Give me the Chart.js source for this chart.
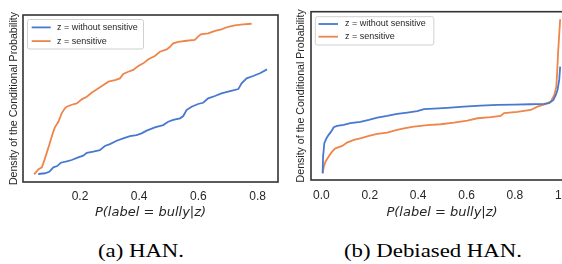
<!DOCTYPE html>
<html>
<head>
<meta charset="utf-8">
<script src="https://cdn.jsdelivr.net/npm/chart.js@4.4.1/dist/chart.umd.min.js"></script>
<style>
  html, body { margin: 0; padding: 0; background: #fff; overflow: hidden; width: 562px; height: 264px; }
  .panel { position: absolute; top: 0; }
  .caption { position: absolute; top: 239.5px; font-family: "Liberation Serif", "Times New Roman", serif;
             font-size: 19px; color: #000; text-align: center; white-space: nowrap;
             transform: scaleX(1.2); transform-origin: center; }
</style>
</head>
<body>
<canvas class="panel" id="hanChart" width="281" height="230" style="left:0"></canvas>
<canvas class="panel" id="debiasedChart" width="300" height="230" style="left:281px"></canvas>
<div class="caption" style="left:91px;width:100px">(a) HAN.</div>
<div class="caption" style="left:333px;width:200px">(b) Debiased HAN.</div>
<script>
// ---- data ----
const SERIES_LABELS = ['z = without sensitive', 'z = sensitive'];
const X_TITLE = 'P(label = bully|z)';
const Y_TITLE = 'Density of the Conditional Probability';

// (a) HAN
const hanWithoutX = [0.059,0.082,0.096,0.110,0.123,0.135,0.155,0.172,0.194,0.211,0.223,0.245,0.267,0.284,0.301,0.324,0.346,0.369,0.391,0.408,0.425,0.436,0.453,0.481,0.498,0.515,0.538,0.549,0.560,0.577,0.599,0.616,0.633,0.656,0.678,0.707,0.735,0.746,0.763,0.785,0.808,0.832];
const hanWithoutY = [0.002,0.007,0.017,0.046,0.055,0.077,0.086,0.095,0.113,0.124,0.143,0.150,0.161,0.188,0.201,0.223,0.239,0.254,0.261,0.272,0.290,0.299,0.312,0.327,0.349,0.361,0.372,0.387,0.427,0.449,0.467,0.475,0.505,0.520,0.538,0.553,0.566,0.604,0.637,0.653,0.671,0.697];
const hanSensX = [0.045,0.059,0.071,0.078,0.087,0.096,0.108,0.115,0.127,0.138,0.149,0.155,0.172,0.189,0.206,0.223,0.239,0.256,0.279,0.296,0.318,0.335,0.346,0.363,0.380,0.397,0.414,0.431,0.453,0.470,0.493,0.504,0.515,0.532,0.560,0.588,0.599,0.608,0.633,0.656,0.678,0.701,0.723,0.751,0.780];
const hanSensY = [0,0.033,0.046,0.084,0.139,0.195,0.272,0.312,0.349,0.405,0.438,0.449,0.462,0.471,0.498,0.515,0.542,0.564,0.593,0.615,0.626,0.637,0.666,0.681,0.693,0.719,0.737,0.764,0.786,0.814,0.830,0.847,0.870,0.880,0.887,0.892,0.914,0.930,0.936,0.952,0.963,0.980,0.989,0.996,1.000];
const hanTicks = [0.2, 0.4, 0.6, 0.8];

// (b) Debiased HAN
const debWithoutX = [0.005,0.007,0.012,0.021,0.030,0.040,0.051,0.065,0.092,0.120,0.161,0.196,0.231,0.272,0.313,0.355,0.396,0.424,0.465,0.520,0.589,0.658,0.728,0.796,0.865,0.920,0.941,0.959,0.969,0.976,0.983,0.987];
const debWithoutY = [0,0.108,0.195,0.227,0.249,0.270,0.299,0.307,0.314,0.325,0.333,0.346,0.361,0.372,0.385,0.394,0.403,0.416,0.419,0.424,0.432,0.439,0.444,0.445,0.448,0.450,0.455,0.476,0.508,0.541,0.606,0.692];
const debSensX = [0.005,0.010,0.017,0.030,0.044,0.058,0.086,0.106,0.134,0.161,0.196,0.231,0.272,0.313,0.341,0.382,0.438,0.493,0.548,0.603,0.645,0.700,0.741,0.755,0.810,0.865,0.893,0.928,0.948,0.963,0.971,0.975,0.979,0.987];
const debSensY = [0,0.043,0.075,0.108,0.140,0.162,0.177,0.199,0.216,0.227,0.242,0.255,0.264,0.281,0.292,0.303,0.312,0.318,0.329,0.342,0.357,0.364,0.372,0.390,0.398,0.411,0.432,0.450,0.465,0.508,0.562,0.671,0.801,1.000];
const debTicks = [0.0, 0.2, 0.4, 0.6, 0.8, 1.0];

const BLUE = '#4878d0';
const ORANGE = '#ee854a';
const INK = '#262626';

const toPoints = (xs, ys) => xs.map((x, i) => ({ x: x, y: ys[i] }));

// frame (spines) + matplotlib-style legend, drawn over the lines
const frameAndLegend = {
  id: 'frameAndLegend',
  afterDatasetsDraw(chart, args, o) {
    const ctx = chart.ctx;
    const a = chart.chartArea;
    ctx.save();
    ctx.strokeStyle = '#333';
    ctx.lineWidth = 1.6;
    ctx.strokeRect(a.left, a.top, a.right - a.left, a.bottom - a.top);

    // legend box
    ctx.beginPath();
    ctx.roundRect(o.x, o.y, o.w, o.h, 2);
    ctx.fillStyle = 'rgba(255,255,255,0.85)';
    ctx.fill();
    ctx.strokeStyle = '#d0d0d0';
    ctx.lineWidth = 1;
    ctx.stroke();

    ctx.font = '9px "Liberation Sans", Arial, sans-serif';
    ctx.textBaseline = 'middle';
    chart.data.datasets.forEach((ds, i) => {
      const ry = o.rows[i];
      ctx.strokeStyle = ds.borderColor;
      ctx.lineWidth = 1.8;
      ctx.beginPath();
      ctx.moveTo(o.lineX, ry);
      ctx.lineTo(o.lineX + o.lineLen, ry);
      ctx.stroke();
      ctx.fillStyle = INK;
      ctx.fillText(ds.label, o.textX, ry);
    });
    ctx.restore();
  }
};

function makeChart(id, g) {
  new Chart(document.getElementById(id), {
    type: 'scatter',
    data: {
      datasets: [
        { label: SERIES_LABELS[0], data: toPoints(g.withoutX, g.withoutY), borderColor: BLUE },
        { label: SERIES_LABELS[1], data: toPoints(g.sensX, g.sensY), borderColor: ORANGE }
      ].map(d => Object.assign(d, { showLine: true, borderWidth: 1.8, pointRadius: 0, tension: 0, fill: false }))
    },
    options: {
      responsive: false,
      animation: false,
      layout: { padding: { left: 0, top: g.top, right: g.right, bottom: 0 } },
      plugins: {
        legend: { display: false },
        tooltip: { enabled: false },
        frameAndLegend: g.legend
      },
      scales: {
        x: {
          type: 'linear',
          min: g.xMin, max: g.xMax,
          grid: { display: false, drawTicks: false },
          border: { display: false },
          afterBuildTicks: axis => { axis.ticks = g.ticks.map(v => ({ value: v })); },
          afterFit: axis => { axis.height = g.xAxisH; },
          ticks: {
            padding: g.tickPad,
            color: INK,
            font: { family: '"Liberation Sans", Arial, sans-serif', size: 12 },
            callback: v => v.toFixed(1)
          },
          title: {
            display: true,
            text: X_TITLE,
            color: INK,
            padding: { top: 0, bottom: g.xTitlePad },
            font: { family: '"DejaVu Sans", sans-serif', size: 13, style: 'italic' }
          }
        },
        y: {
          type: 'linear',
          min: g.yMin, max: g.yMax,
          grid: { display: false, drawTicks: false },
          border: { display: false },
          ticks: { display: false },
          afterFit: axis => { axis.width = g.yAxisW; },
          title: {
            display: true,
            text: Y_TITLE,
            color: INK,
            padding: { top: g.yTitlePad, bottom: 0 },
            font: { family: '"Liberation Sans", Arial, sans-serif', size: 10.6 }
          }
        }
      }
    },
    plugins: [frameAndLegend]
  });
}

makeChart('hanChart', {
  withoutX: hanWithoutX, withoutY: hanWithoutY, sensX: hanSensX, sensY: hanSensY, ticks: hanTicks,
  xMin: 0.0074, xMax: 0.869, yMin: -0.051, yMax: 1.058,
  top: 15, right: 3, yAxisW: 23, xAxisH: 48, tickPad: 7, xTitlePad: 9.5, yTitlePad: 7.6,
  legend: { x: 27.5, y: 19.5, w: 116, h: 29.5, rows: [27.4, 41.1], lineX: 31.7, lineLen: 19, textX: 57 }
});

makeChart('debiasedChart', {
  withoutX: debWithoutX, withoutY: debWithoutY, sensX: debSensX, sensY: debSensY, ticks: debTicks,
  xMin: -0.043, xMax: 1.04, yMin: -0.044, yMax: 1.049,
  top: 11.7, right: 8, yAxisW: 30, xAxisH: 50, tickPad: 8, xTitlePad: 9.5, yTitlePad: 14.2,
  legend: { x: 34.3, y: 16.7, w: 118.5, h: 28.3, rows: [24, 36.7], lineX: 37.5, lineLen: 19.5, textX: 64 }
});
</script>
</body>
</html>
